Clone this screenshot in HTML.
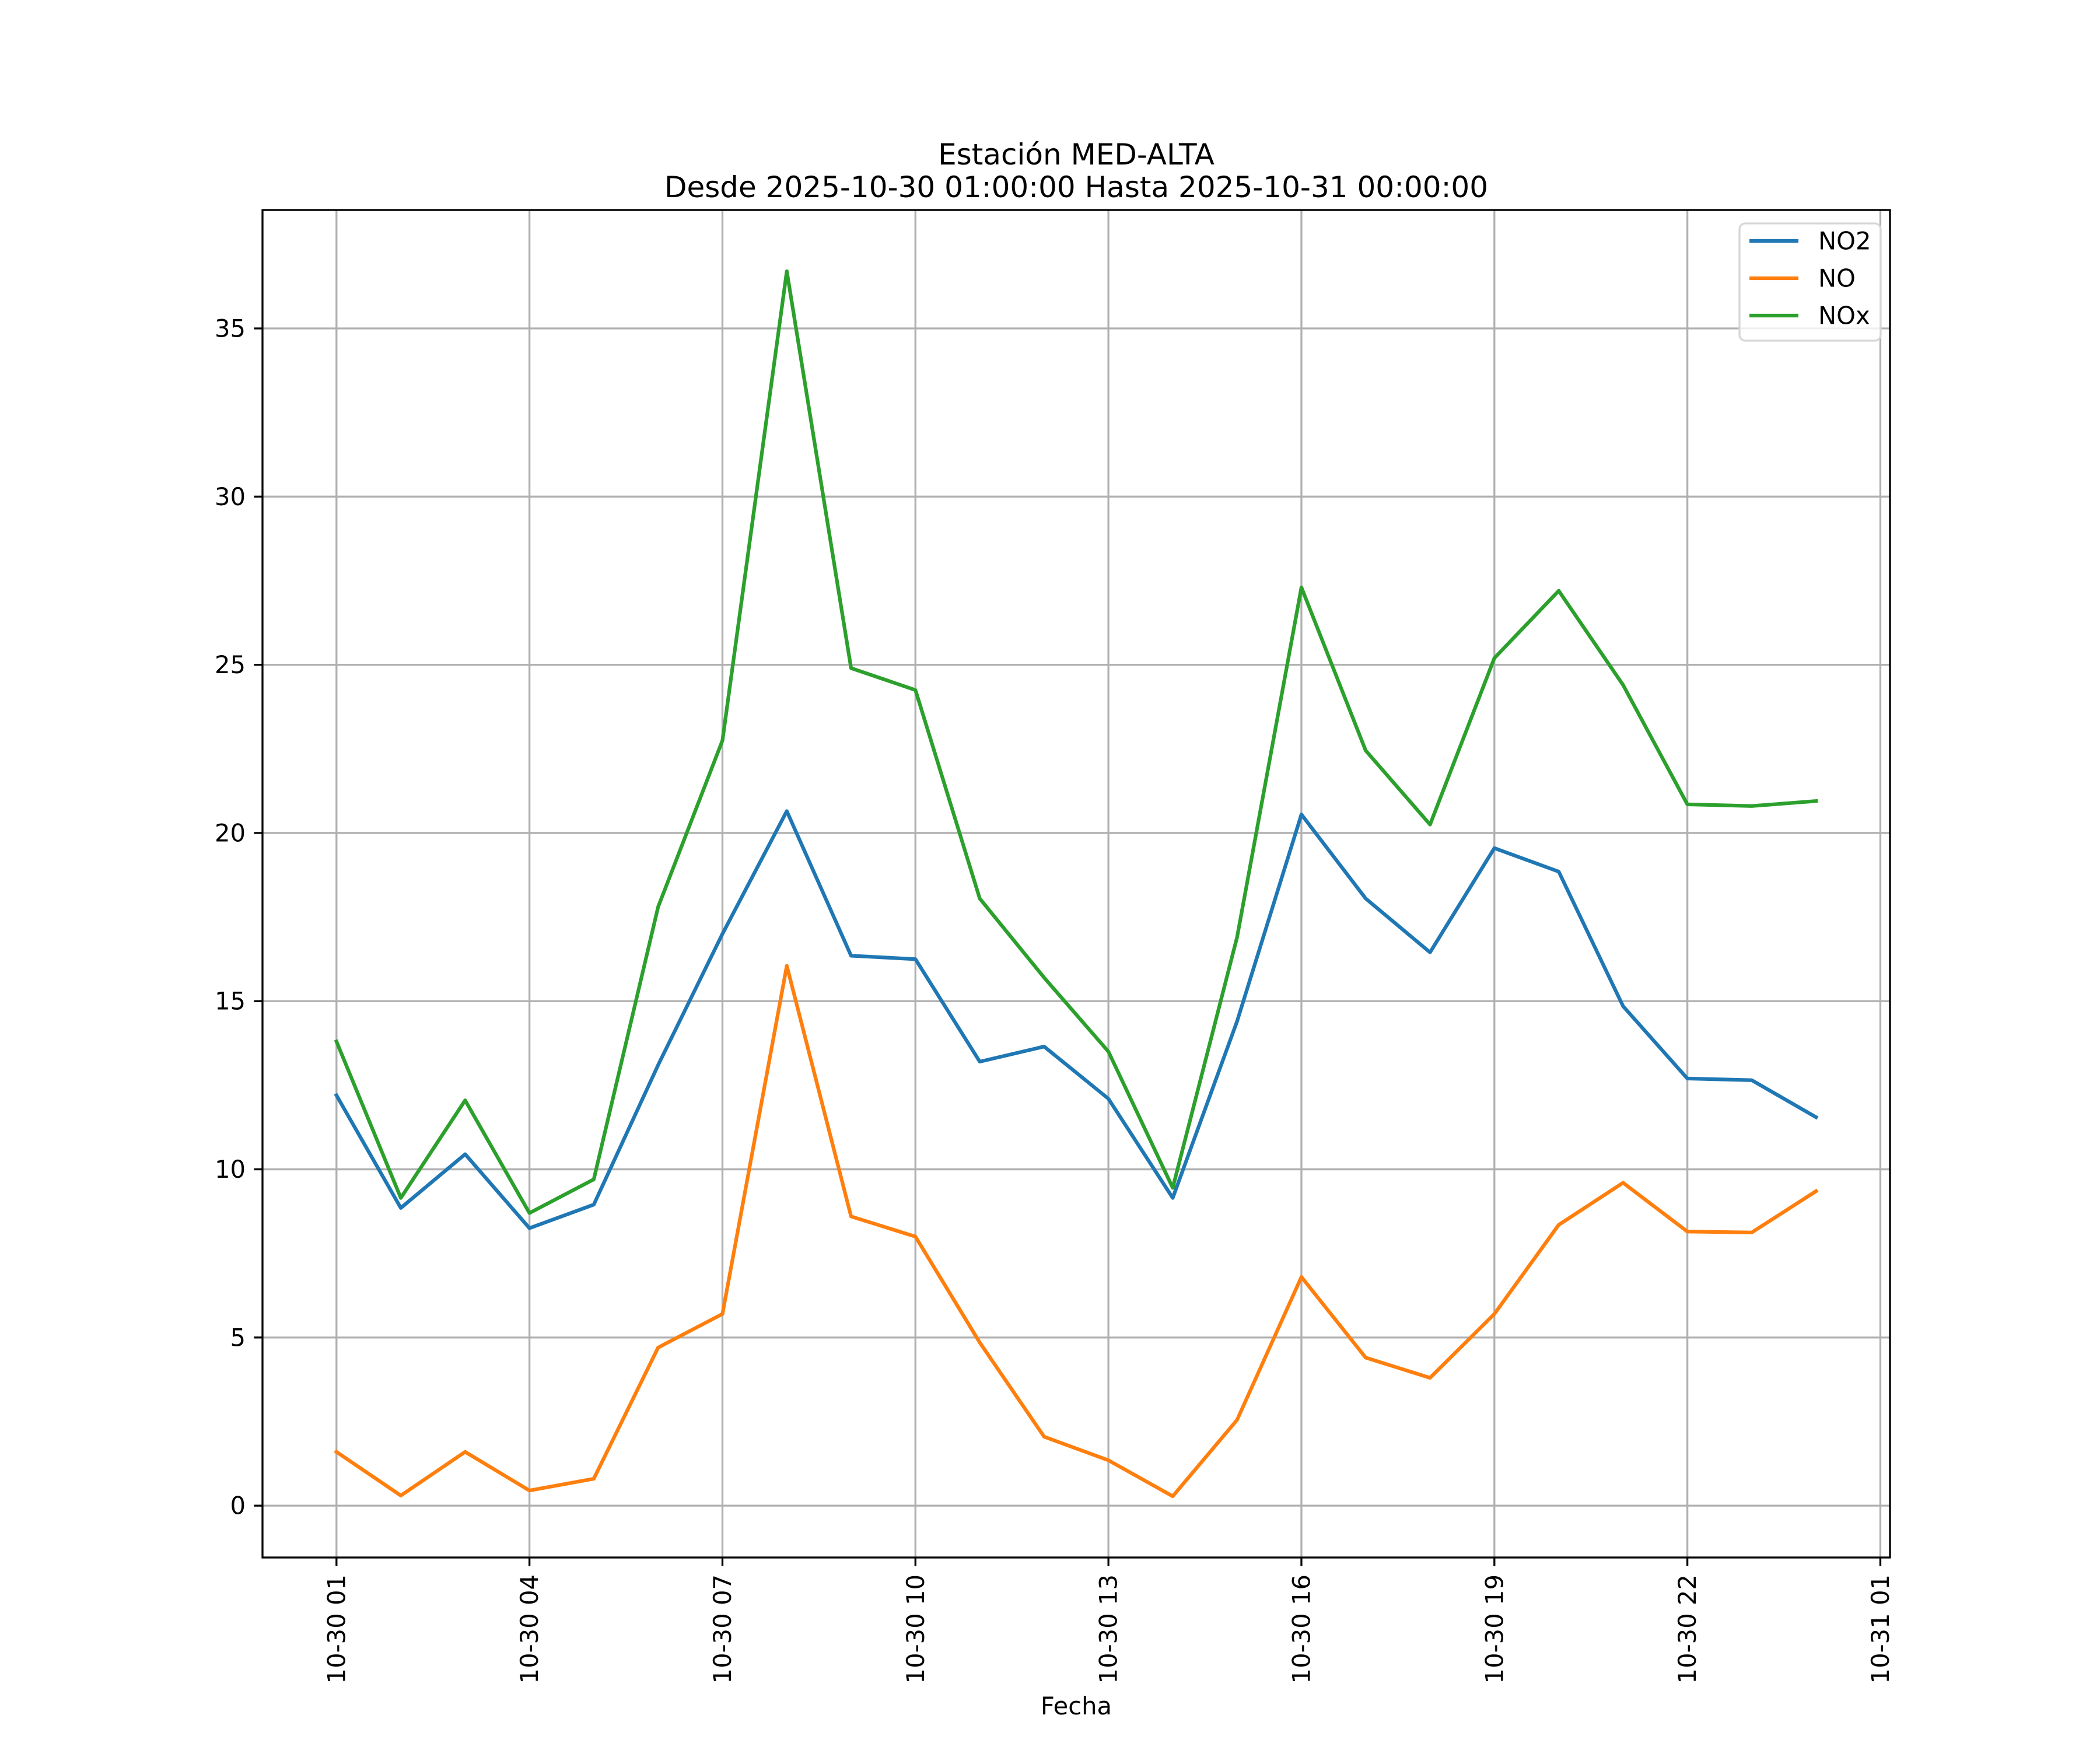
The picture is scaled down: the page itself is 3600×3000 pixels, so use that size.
<!DOCTYPE html>
<html><head><meta charset="utf-8"><style>
html,body{margin:0;padding:0;background:#fff;}
svg{display:block;font-family:"DejaVu Sans","Liberation Sans",sans-serif;}
</style></head><body>
<svg id="chart" width="3600" height="3000" viewBox="0 0 3600 3000" xmlns="http://www.w3.org/2000/svg">
<rect width="3600" height="3000" fill="#fff"/>
<text x="1845" y="282" font-size="50" text-anchor="middle">Estación MED-ALTA</text>
<text x="1845" y="338" font-size="50" text-anchor="middle">Desde 2025-10-30 01:00:00 Hasta 2025-10-31 00:00:00</text>
<g id="grid"></g>
<g id="series"></g>
<rect x="450" y="360" width="2790" height="2310" fill="none" stroke="#000" stroke-width="3.3"/>
<g id="ticks"></g>
<text x="1845" y="2939" font-size="41.7" text-anchor="middle">Fecha</text>
<g id="legend"></g>
</svg>
<script>
const hours = [1,2,3,4,5,6,7,8,9,10,11,12,13,14,15,16,17,18,19,20,21,22,23,24];
const no2 = [12.2,8.85,10.45,8.25,8.95,13.1,17.0,20.65,16.35,16.25,13.2,13.65,12.1,9.15,14.4,20.55,18.05,16.45,19.55,18.85,14.85,12.7,12.65,11.55];
const no = [1.6,0.3,1.6,0.45,0.8,4.7,5.7,16.05,8.6,8.0,4.85,2.05,1.35,0.28,2.55,6.8,4.4,3.8,5.7,8.35,9.6,8.15,8.12,9.35];
const nox = [13.8,9.15,12.05,8.7,9.7,17.8,22.75,36.7,24.9,24.25,18.05,15.7,13.5,9.45,16.9,27.3,22.45,20.25,25.2,27.2,24.4,20.85,20.8,20.95];
const xTickHours = [1,4,7,10,13,16,19,22,25];
const xTickLabels = ["10-30 01","10-30 04","10-30 07","10-30 10","10-30 13","10-30 16","10-30 19","10-30 22","10-31 01"];
const yTicks = [0,5,10,15,20,25,30,35];
const seriesNames = ["NO2","NO","NOx"];
const seriesColors = ["#1f77b4","#ff7f0e","#2ca02c"];

const L=450,R=3240,T=360,B=2670;
const hMin=Math.min(...hours),hMax=Math.max(...hours),hPad=(hMax-hMin)*0.05;
const x0=hMin-hPad,x1=hMax+hPad;
const all=no2.concat(no,nox);
const vMin=Math.min(...all),vMax=Math.max(...all),vPad=(vMax-vMin)*0.05;
const y0=vMin-vPad,y1=vMax+vPad;
const sx=h=>L+(h-x0)/(x1-x0)*(R-L);
const sy=v=>B-(v-y0)/(y1-y0)*(B-T);
const NS="http://www.w3.org/2000/svg";
function mk(tag,attrs,parent){const e=document.createElementNS(NS,tag);for(const k in attrs)e.setAttribute(k,attrs[k]);parent.appendChild(e);return e;}
const grid=document.getElementById('grid'),ticks=document.getElementById('ticks'),series=document.getElementById('series'),legend=document.getElementById('legend');
xTickHours.forEach((h,i)=>{
  const x=sx(h);
  const g=mk('line',{x1:x,x2:x,y1:T,y2:B,stroke:'#b0b0b0','stroke-width':3.3},grid);
  
  
  const t=mk('line',{x1:x,x2:x,y1:B,y2:B+14.6,stroke:'#000','stroke-width':3.3},ticks);
  
  
  const tx=mk('text',{x:0,y:0,'font-size':41.7,'text-anchor':'end','dominant-baseline':'central',transform:`translate(${x},${B+29}) rotate(-90)`},ticks);
  tx.textContent=xTickLabels[i];
  
  
});
yTicks.forEach(v=>{
  const y=sy(v);
  const g=mk('line',{x1:L,x2:R,y1:y,y2:y,stroke:'#b0b0b0','stroke-width':3.3},grid);
  
  
  const t=mk('line',{x1:L-14.6,x2:L,y1:y,y2:y,stroke:'#000','stroke-width':3.3},ticks);
  
  
  const tx=mk('text',{x:L-29,y:y,'font-size':41.7,'text-anchor':'end','dominant-baseline':'central'},ticks);
  tx.textContent=String(v);
  
  
});
[no2,no,nox].forEach((vals,si)=>{
  const pts=vals.map((v,i)=>sx(hours[i]).toFixed(1)+','+sy(v).toFixed(1)).join(' ');
  const p=mk('polyline',{points:pts,fill:'none',stroke:seriesColors[si],'stroke-width':6.25,'stroke-linejoin':'round','stroke-linecap':'square'},series);
  
  
});
const box=mk('rect',{x:2982,y:383,width:242,height:201,rx:10,fill:'#fff','fill-opacity':0.8,stroke:'#d6d6d6','stroke-width':3.3},legend);


seriesNames.forEach((n,i)=>{
  const y=413+i*64;
  const l=mk('line',{x1:2999,x2:3083,y1:y,y2:y,stroke:seriesColors[i],'stroke-width':6.25},legend);
  
  
  const t=mk('text',{x:3117,y:y,'font-size':41.7,'dominant-baseline':'central'},legend);
  t.textContent=n;
  
  
});
</script>
</body></html>
